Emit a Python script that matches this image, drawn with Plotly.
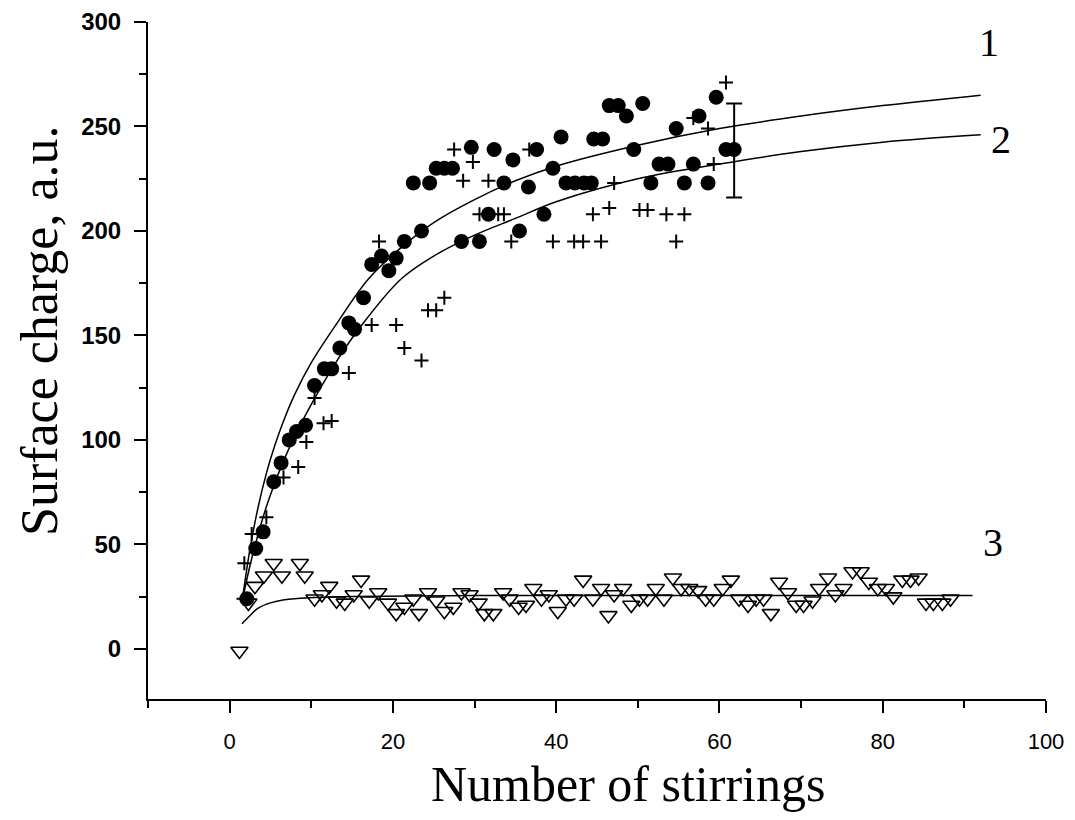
import plotly.graph_objects as go

# ---- data ----
circ_x = [2.1, 3.2, 4.1, 5.4, 6.3, 7.3, 8.2, 9.3, 10.4, 11.6, 12.5, 13.5, 14.6, 15.3, 16.4, 17.4,
          18.6, 19.5, 20.4, 21.4, 22.5, 23.5, 24.5, 25.3, 26.3, 27.3, 28.4, 29.6, 30.6, 31.7, 32.4,
          33.6, 34.7, 35.5, 36.6, 37.6, 38.5, 39.6, 40.6, 41.2, 42.3, 43.4, 44.3, 44.6, 45.7, 46.5,
          47.6, 48.6, 49.5, 50.6, 51.6, 52.6, 53.7, 54.7, 55.7, 56.8, 57.5, 58.6, 59.6, 60.8, 61.8]
circ_y = [24, 48, 56, 80, 89, 100, 104, 107, 126, 134, 134, 144, 156, 153, 168, 184,
          188, 181, 187, 195, 223, 200, 223, 230, 230, 230, 195, 240, 195, 208, 239,
          223, 234, 200, 221, 239, 208, 230, 245, 223, 223, 223, 223, 244, 244, 260,
          260, 255, 239, 261, 223, 232, 232, 249, 223, 232, 255, 223, 264, 239, 239]

cross_x = [1.7, 1.8, 2.7, 4.5, 6.6, 8.4, 9.4, 10.4, 11.5, 12.5, 14.6, 17.4, 18.3, 20.4, 21.4, 23.5,
           24.3, 25.3, 26.3, 27.5, 28.6, 29.8, 30.6, 31.7, 32.9, 33.6, 34.5, 36.7, 39.6, 42.2,
           43.3, 44.5, 45.5, 46.5, 47.1, 50.2, 51.2, 53.5, 54.7, 55.7, 56.8, 58.6, 59.3, 60.8]
cross_y = [24, 41, 55, 63, 82, 87, 99, 120, 108, 109, 132, 155, 195, 155, 144, 138,
           162, 162, 168, 239, 224, 233, 208, 224, 208, 208, 195, 239, 195, 195,
           195, 208, 195, 211, 223, 210, 210, 208, 195, 208, 254, 249, 232, 271]

tri_x = [1.2, 2.3, 3.1, 4.2, 5.4, 6.4, 8.6, 9.2, 10.4, 11.3, 12.2, 13.1, 14.1, 15.2, 16.1, 17.1,
         18.2, 19.4, 20.4, 21.4, 22.5, 23.2, 24.3, 25.3, 26.3, 27.4, 28.4, 29.4, 30.5, 31.2,
         32.3, 33.5, 34.3, 35.4, 36.3, 37.2, 38.2, 39.1, 40.2, 41.2, 42.2, 43.3, 44.5, 45.5,
         46.4, 47.1, 48.2, 49.2, 50.2, 51.2, 52.2, 53.2, 54.3, 55.3, 56.3, 57.4, 58.3, 59.3,
         60.4, 61.4, 62.4, 63.5, 64.5, 65.4, 66.3, 67.3, 68.4, 69.4, 70.3, 71.4, 72.2, 73.3,
         74.2, 75.2, 76.3, 77.3, 78.3, 79.4, 80.4, 81.3, 82.4, 83.4, 84.4, 85.3, 86.2, 87.3, 88.3]
tri_y = [-1, 22, 30, 35, 41, 35, 41, 35, 24, 26, 30, 23, 22, 26, 33, 23,
         27, 22, 17, 20, 24, 17, 27, 23, 18, 20, 27, 26, 22, 17,
         17, 27, 24, 20, 21, 29, 24, 26, 18, 24, 24, 33, 24, 29,
         16, 26, 29, 21, 24, 24, 29, 24, 34, 29, 29, 28, 24, 24,
         29, 33, 24, 21, 24, 24, 17, 32, 27, 21, 21, 23, 29, 34,
         26, 29, 37, 37, 32, 29, 29, 25, 33, 33, 34, 22, 22, 22, 24]

fit1_x = [1.5, 2.5, 3.5, 4.5, 5.5, 6.5, 8.0, 10.0, 13.0, 17.0, 21.0, 25.0, 30.0, 35.0, 40.0,
          50.0, 60.0, 70.0, 80.0, 92.0]
fit1_y = [22, 48, 68, 84, 97, 108, 122, 137, 155, 177, 192, 204, 215, 224, 231,
          241, 249, 255, 260, 265]

fit2_x = [1.5, 2.5, 3.5, 4.5, 5.5, 6.5, 8.0, 10.0, 13.0, 16.0, 21.0, 25.0, 30.0, 35.0, 40.0,
          50.0, 60.0, 70.0, 80.0, 92.0]
fit2_y = [22, 40, 55, 68, 79, 89, 102, 117, 137, 154, 177, 188, 198, 206, 214,
          225, 232, 238, 242.5, 246]

fit3_x = [1.5, 2.5, 3.5, 5.0, 6.7, 9.7, 15.0, 30.0, 50.0, 70.0, 91.0]
fit3_y = [12, 16, 19.5, 22, 23.5, 24.5, 25, 25.5, 25.5, 25.5, 25.5]

err_x = [61.8]
err_y = [238.5]
err_size = [22.5]

curve_labels = ["1", "2", "3"]
label_x = [93.0, 94.5, 93.5]
label_y = [290, 244, 51]

x_title = "Number of stirrings"
y_title = "Surface charge, a.u."

# ---- figure ----
fig = go.Figure()

line_style = dict(color="black", width=1.5, shape="spline", smoothing=1.0)
fig.add_trace(go.Scatter(x=fit1_x, y=fit1_y, mode="lines", line=line_style, showlegend=False))
fig.add_trace(go.Scatter(x=fit2_x, y=fit2_y, mode="lines", line=line_style, showlegend=False))
fig.add_trace(go.Scatter(x=fit3_x, y=fit3_y, mode="lines", line=line_style, showlegend=False))

fig.add_trace(go.Scatter(
    x=tri_x, y=tri_y, mode="markers", showlegend=False,
    marker=dict(symbol="triangle-down-open", size=15, color="black", line=dict(width=1.6, color="black")),
))
fig.add_trace(go.Scatter(
    x=circ_x, y=circ_y, mode="markers", showlegend=False,
    marker=dict(symbol="circle", size=15, color="black"),
))
fig.add_trace(go.Scatter(
    x=cross_x, y=cross_y, mode="markers", showlegend=False,
    marker=dict(symbol="cross-thin-open", size=10, color="black", line=dict(width=2, color="black")),
))
fig.add_trace(go.Scatter(
    x=err_x, y=err_y, mode="markers", showlegend=False,
    marker=dict(size=1, color="rgba(0,0,0,0)"),
    error_y=dict(type="data", array=err_size, visible=True, width=8, thickness=2, color="black"),
))

for t, lx, ly in zip(curve_labels, label_x, label_y):
    fig.add_annotation(x=lx, y=ly, text=t, showarrow=False, xref="x", yref="y",
                       font=dict(family="Liberation Serif", size=40, color="black"))

fig.add_annotation(x=0.5345, y=-0.1256, xref="paper", yref="paper", text=x_title, showarrow=False,
                   xanchor="center", yanchor="middle",
                   font=dict(family="Liberation Serif", size=50, color="black"))
fig.add_annotation(x=-0.1214, y=0.545, xref="paper", yref="paper", text=y_title, showarrow=False,
                   xanchor="center", yanchor="middle", textangle=-90,
                   font=dict(family="Liberation Serif", size=52, color="black"))

fig.update_xaxes(
    range=[-10, 100], tick0=0, dtick=20, showgrid=False, zeroline=False,
    showline=True, linecolor="black", linewidth=2, ticks="outside", ticklen=12, tickwidth=2,
    tickcolor="black", ticklabelstandoff=10, automargin=False,
    tickfont=dict(family="Liberation Sans", size=22, color="black"),
    minor=dict(dtick=10, tick0=0, ticks="outside", ticklen=7, tickwidth=2, tickcolor="black", showgrid=False),
)
fig.update_yaxes(
    range=[-24, 300], tick0=0, dtick=50, showgrid=False, zeroline=False,
    showline=True, linecolor="black", linewidth=2, ticks="outside", ticklen=12, tickwidth=2,
    tickcolor="black", ticklabelstandoff=8, automargin=False,
    tickfont=dict(family="Liberation Sans", size=24, color="black", weight="bold"),
    minor=dict(dtick=25, tick0=0, ticks="outside", ticklen=7, tickwidth=2, tickcolor="black", showgrid=False),
)

# page body has an 8px margin: size the figure so it fits the 1075x820 window
fig.update_layout(
    width=1059, height=804,
    margin=dict(l=140, r=21, t=14, b=113),
    plot_bgcolor="white", paper_bgcolor="white",
    showlegend=False,
)

fig.write_html("out.html")
